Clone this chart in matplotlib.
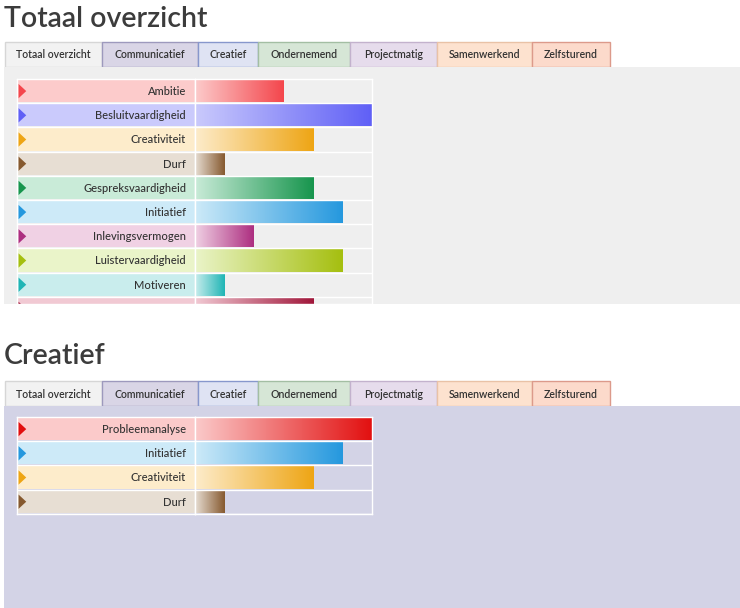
import numpy as np
import matplotlib
matplotlib.use("Agg")
import matplotlib.pyplot as plt
from matplotlib.colors import LinearSegmentedColormap
from matplotlib.patches import Rectangle, Polygon

plt.rcParams['font.family'] = ['Lato', 'DejaVu Sans']

# ---- data -------------------------------------------------------------
tab_labels = ["Totaal overzicht", "Communicatief", "Creatief", "Ondernemend",
              "Projectmatig", "Samenwerkend", "Zelfsturend"]

overview_skills = ["Ambitie", "Besluitvaardigheid", "Creativiteit", "Durf",
                   "Gespreksvaardigheid", "Initiatief", "Inlevingsvermogen",
                   "Luistervaardigheid", "Motiveren", "Netwerken"]
overview_scores = [3, 6, 4, 1, 4, 5, 2, 5, 1, 4]

creative_skills = ["Probleemanalyse", "Initiatief", "Creativiteit", "Durf"]
creative_scores = [6, 5, 4, 1]

max_score = 6

# ---- styling ----------------------------------------------------------
W, H = 740, 608
skill_colors = {
    "Ambitie": ("#fccbcb", "#f4464c"),
    "Besluitvaardigheid": ("#cacafc", "#5f5ff6"),
    "Creativiteit": ("#fdeccb", "#eea514"),
    "Durf": ("#e7ded3", "#86592f"),
    "Gespreksvaardigheid": ("#c9ebd8", "#17954d"),
    "Initiatief": ("#cdeaf8", "#2598de"),
    "Inlevingsvermogen": ("#f0d1e4", "#ad2e80"),
    "Luistervaardigheid": ("#eaf4c9", "#a5bf0f"),
    "Motiveren": ("#c9eded", "#1fb5b5"),
    "Netwerken": ("#f1c9d3", "#a0173a"),
    "Probleemanalyse": ("#fbcaca", "#e20f0f"),
}
tab_style = [
    (5, 102, "#f2f2f2", "#d6d6d6"),
    (102, 198, "#d9d5e6", "#9d99bd"),
    (198, 258, "#dfe3f3", "#8797cc"),
    (258, 350, "#d6e6d6", "#a3bea3"),
    (350, 437, "#e6dcec", "#c3b2cd"),
    (437, 532, "#fde2cf", "#e9c2a6"),
    (532, 610, "#fcdacb", "#dc9a8b"),
]
text_color = "#333333"
row_px = 24.2

fig = plt.figure(figsize=(W / 100, H / 100), dpi=100)
fig.patch.set_facecolor("white")

# pixel-space canvas for headings, tabs and panels
bg = fig.add_axes([0, 0, 1, 1])
bg.set_xlim(0, W)
bg.set_ylim(H, 0)
bg.axis("off")


def px_axes(x0, y0, x1, y1):
    return fig.add_axes([x0 / W, 1 - y1 / H, (x1 - x0) / W, (y1 - y0) / H])


def draw_section(title, title_y, tab_y, panel_bottom, panel_color):
    bg.text(4, title_y, title, fontsize=20.5, color="#3c3c3c",
            fontweight="semibold", va="baseline", ha="left")
    for label, (x0, x1, fc, ec) in zip(tab_labels, tab_style):
        bg.add_patch(Rectangle((x0, tab_y), x1 - x0, 25, facecolor=fc,
                               edgecolor=ec, linewidth=1.0))
        bg.text((x0 + x1) / 2, tab_y + 13, label, fontsize=7.6,
                fontweight="semibold", color=text_color,
                ha="center", va="center")
    bg.add_patch(Rectangle((4, tab_y + 25), W - 4, panel_bottom - tab_y - 25,
                           facecolor=panel_color, edgecolor="none"))


def draw_chart(skills, scores, top, bottom):
    lab_ax = px_axes(17, top, 195, bottom)
    bar_ax = px_axes(195, top, 372, bottom)
    n_vis = (bottom - top) / row_px
    for ax in (lab_ax, bar_ax):
        ax.set_ylim(n_vis, 0)
        ax.set_facecolor("none")
        ax.set_xticks([])
        ax.set_yticks([])
        for s in ax.spines.values():
            s.set_color("white")
            s.set_linewidth(1.0)
    lab_ax.set_xlim(0, 1)
    bar_ax.set_xlim(0, max_score)
    gap = 0.04
    ypos = np.arange(len(skills))
    bars = bar_ax.barh(ypos + 0.5, scores, height=1 - 2 * gap,
                       color="none", edgecolor="none")
    for i, (name, bar) in enumerate(zip(skills, bars)):
        tint, strong = skill_colors[name]
        lab_ax.add_patch(Rectangle((0, i + gap), 1, 1 - 2 * gap,
                                   facecolor=tint, edgecolor="none"))
        lab_ax.add_patch(Polygon([[0.008, i + 0.2], [0.008, i + 0.8],
                                  [0.052, i + 0.5]], closed=True,
                                 facecolor=strong, edgecolor="none"))
        lab_ax.text(0.95, i + 0.52, name, fontsize=8, color=text_color,
                    fontweight="medium", ha="right", va="center",
                    clip_on=True)
        cmap = LinearSegmentedColormap.from_list(name, [tint, strong])
        x0, y0 = bar.get_x(), bar.get_y()
        bar_ax.imshow(np.linspace(0, 1, 256).reshape(1, -1), cmap=cmap,
                      aspect="auto", interpolation="bilinear",
                      extent=[x0, x0 + bar.get_width(),
                              y0 + bar.get_height(), y0])
        for ax in (lab_ax, bar_ax):
            ax.axhline(i + 1, color="white", linewidth=1.0)
    bar_ax.set_xlim(0, max_score)
    bar_ax.set_ylim(n_vis, 0)


draw_section("Totaal overzicht", 27, 42, 304, "#efefef")
draw_chart(overview_skills, overview_scores, 79, 304)

draw_section("Creatief", 364, 381, 608, "#d3d3e6")
draw_chart(creative_skills, creative_scores, 417, 417 + 4 * row_px)

fig.savefig("out.png", dpi=100)
